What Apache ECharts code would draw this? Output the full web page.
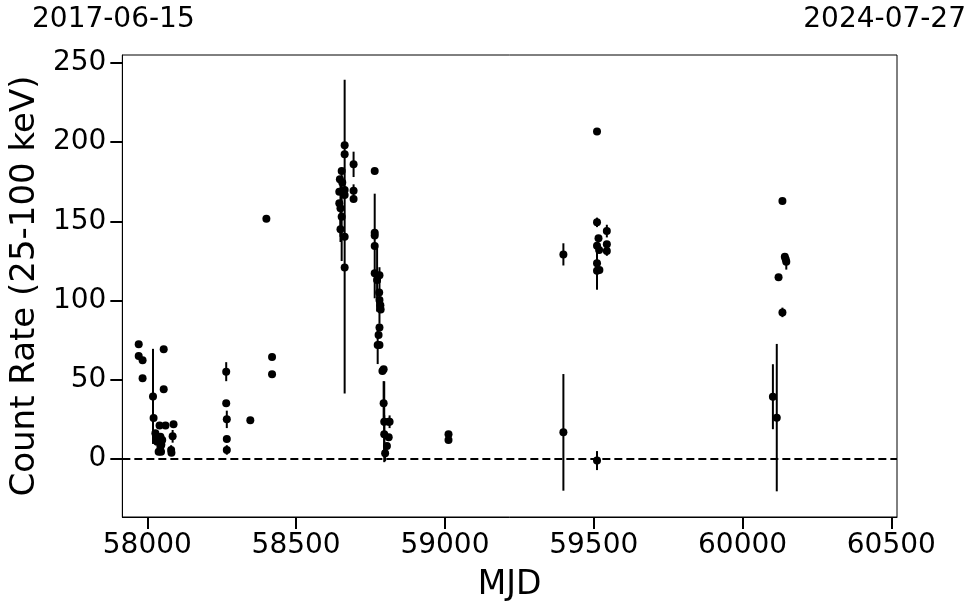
<!DOCTYPE html>
<html><head><meta charset="utf-8">
<script src="https://cdn.jsdelivr.net/npm/echarts@6/dist/echarts.min.js"></script>
<style>html,body{margin:0;padding:0;background:#fff}#c{width:974px;height:613px}</style>
</head><body><div id="c"></div>
<script>
const mjd = [
57971,57971,57984,57984,58019,58021,58055,58055,
58027,58030,58044,58041,58061,58088,58085,58080,58038,58044,58033,58046,58081,58050,58047,
58265,58265,58267,58267,58267,58346,58400,58419,58419,
58653,58647,58645,58645,58649,58653,58649,58655,
58663,58663,58663,58663,58663,58663,
58693,58693,58693,
58764,58764,58764,58764,58764,58772,58780,58779,58783,58784,58780,58780,58777,58774,58780,58790,58794,
58794,58796,58811,58814,58796,58811,58805,58799,
59012,59012,59398,59398,
59511,59511,59511,59511,59511,59511,59516,59518,59519,59544,59544,59544,
60102,60115,60121,60134,60134,60142,60145,60147
];
const rate = [
72.4,65,62.3,50.9,39.5,25.9,69.2,44,
16.2,14,14,21.2,21.2,21.9,14.3,5.7,4.6,7.8,10.9,4.6,4,12,9,
55.1,35.1,25,12.6,5.7,24.4,151.6,64.4,53.4,
181.7,176.5,168.6,161.3,158.2,152.9,144.9,174.5,
197.9,192.2,169.7,166.6,140.3,120.9,
185.9,169.3,164,
181.7,142.8,141,134.4,117.2,113,116,105,97,94.4,100.3,83,78.2,71.9,71.9,55.5,56.6,
35.1,23.5,23.5,23.5,15.6,13.7,8.2,3.6,
15.6,12,129.1,16.8,
206.7,149.3,134.6,123.5,118.8,-1,139.2,131.9,119.2,143.8,135.5,131.2,
39.3,26.1,114.6,162.8,92.5,127.6,126,124.5
];
const rateErr = [
1,1,1,1,30,2,1,1,
2,3,2,1,1,1,4,3,2,3,2,2,2,2,2,
6,1,5.5,1,3,1,1.5,1,1,
1,2,2,2,18,28,8,2,
2,2,2,2,99,2,
8,4,1,
1.5,2,2,33,2,20,5,2,2,2,15,2,2,12,2,2,2,
14,25.5,2,4,12,2,2,5,
2,1,7,36.8,
1,3,2,2,12,6,2,2,2,4,2,3,
20.5,46.5,1,1,3,2,2,5
];
const xTicks = [58000,58500,59000,59500,60000,60500];
const yTicks = [0,50,100,150,200,250];
const topDates = ['2017-06-15','2024-07-27'];
const xRange = [57916, 60519];
const yRange = [-36.6, 254.9];

const pts = mjd.map((m,i)=>[m, rate[i]]);
const errData = mjd.map((m,i)=>[m, rate[i]-rateErr[i], rate[i]+rateErr[i]]);
const FONT = 'DejaVu Sans';

const chart = echarts.init(document.getElementById('c'), null, {renderer:'canvas'});
chart.setOption({
  animation:false,
  backgroundColor:'#fff',
  grid:{left:122,right:77,top:55,bottom:96,show:true,borderColor:'#000',borderWidth:1,backgroundColor:'transparent'},
  xAxis:{type:'value',min:xRange[0],max:xRange[1],
    name:'MJD',nameLocation:'middle',nameGap:52,
    nameTextStyle:{fontFamily:FONT,fontSize:33,color:'#000'},
    axisLine:{show:true,onZero:false,lineStyle:{color:'#000',width:1}},
    axisTick:{show:true,length:12,lineStyle:{color:'#000',width:2},customValues:xTicks},
    axisLabel:{fontFamily:FONT,fontSize:28,color:'#000',margin:15,customValues:xTicks,formatter:v=>String(v)},
    splitLine:{show:false}},
  yAxis:{type:'value',min:yRange[0],max:yRange[1],
    name:'Count Rate (25-100 keV)',nameLocation:'middle',nameGap:67,nameRotate:90,
    nameTextStyle:{fontFamily:FONT,fontSize:34,color:'#000'},
    axisLine:{show:true,onZero:false,lineStyle:{color:'#000',width:1}},
    axisTick:{show:true,length:12,lineStyle:{color:'#000',width:2},customValues:yTicks},
    axisLabel:{fontFamily:FONT,fontSize:28,color:'#000',margin:16,customValues:yTicks,formatter:v=>String(v)},
    splitLine:{show:false}},
  graphic:[
    {type:'text',left:32,top:6,style:{text:topDates[0],font:'28px "DejaVu Sans"',fill:'#000'}},
    {type:'text',right:8,top:6,style:{text:topDates[1],font:'28px "DejaVu Sans"',fill:'#000'}}
  ],
  series:[
    {type:'custom',data:errData,clip:true,z:2,
      renderItem:(params,api)=>{
        const lo=api.coord([api.value(0),api.value(1)]);
        const hi=api.coord([api.value(0),api.value(2)]);
        return {type:'line',shape:{x1:lo[0],y1:lo[1],x2:hi[0],y2:hi[1]},style:{stroke:'#000',lineWidth:2}};
      },
      encode:{x:0,y:[1,2]}},
    {type:'scatter',data:pts,symbol:'circle',symbolSize:8,itemStyle:{color:'#000',opacity:1},z:3,
      markLine:{silent:true,symbol:'none',label:{show:false},
        lineStyle:{color:'#000',width:2,type:[8,4],opacity:1},data:[{yAxis:0}]}}
  ]
});
</script></body></html>
